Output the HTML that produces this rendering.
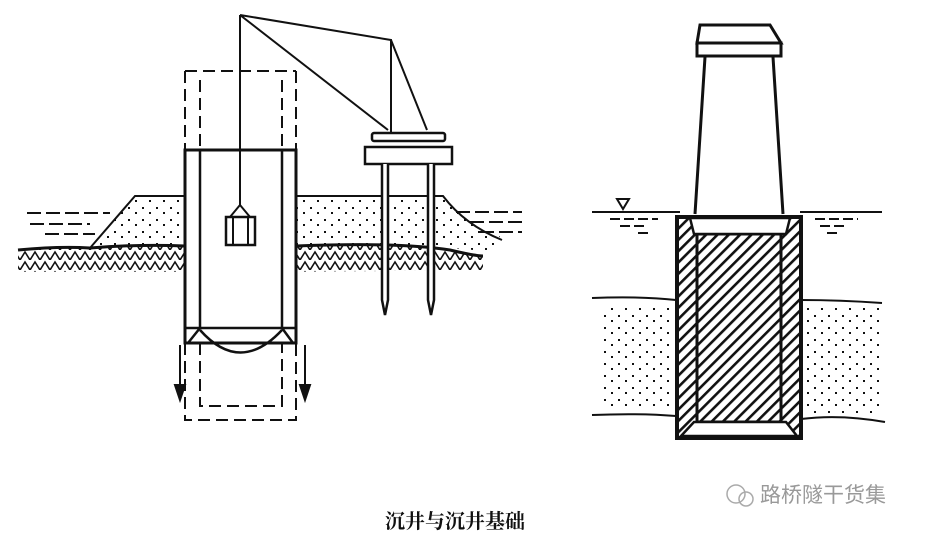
<!DOCTYPE html><html><head><style>body{margin:0;background:#fff}svg{display:block}</style></head><body>
<svg width="930" height="538" viewBox="0 0 930 538" xmlns="http://www.w3.org/2000/svg">
<defs>
<pattern id="h" width="8" height="8" patternUnits="userSpaceOnUse" patternTransform="rotate(45)"><rect width="8" height="8" fill="#fff"/><rect width="2.6" height="8" fill="#111"/></pattern>
<pattern id="g" width="10" height="10" patternUnits="userSpaceOnUse"><path d="M0 10 L5 2 L10 10" fill="none" stroke="#111" stroke-width="1.6"/></pattern>
<pattern id="d" width="14" height="12" patternUnits="userSpaceOnUse"><rect x="2" y="3" width="2" height="2" fill="#111"/><rect x="9" y="8" width="2" height="2" fill="#111"/></pattern>
</defs>
<g stroke="#111" fill="none" stroke-width="2">
<path d="M18 250 Q60 246 90 248 Q140 244 185 246 L185 272 L18 272Z" fill="url(#g)" stroke="none"/>
<path d="M296 246 Q400 242 483 255 L483 270 L296 272Z" fill="url(#g)" stroke="none"/>
<path d="M18 250 Q60 246 90 248 Q140 244 185 246" stroke-width="3"/>
<path d="M296 246 Q400 242 450 250 Q475 256 483 256" stroke-width="3"/>
<path d="M90 248 L135 196 L185 196 L185 246 Q140 244 90 248Z" fill="url(#d)"/>
<path d="M296 196 L443 196 Q470 225 500 236 L490 252 Q420 242 296 246Z" fill="url(#d)" stroke="none"/>
<path d="M296 196 L443 196 Q465 225 502 240"/>
<path d="M27 213 H110 M30 224 H90 M45 234 H95" stroke-dasharray="14 5"/>
<path d="M456 212 H522 M470 222 H522 M480 232 H522" stroke-dasharray="14 5"/>
<path d="M185 71 H296 M185 71 V150 M296 71 V150 M200 80 V150 M282 80 V150 M185 343 V420 H296 V343 M200 343 V406 H282 V343" stroke-dasharray="12 6"/>
<rect x="185" y="150" width="111" height="193" fill="#fff" stroke-width="3"/>
<path d="M200 150 V328 M282 150 V328 M185 328 H296 M200 328 L188 343 M282 328 L293 343" stroke-width="2.5"/>
<path d="M200 330 Q240 375 282 330" stroke-width="2.5"/>
<path d="M180 345 V395 M305 345 V395"/>
<path d="M175 385 L180 400 L185 385Z M300 385 L305 400 L310 385Z" fill="#111"/>
<path d="M240 15 V205 M240 15 L391 40 L391 132 M240 15 L388 130 M391 40 L427 130" stroke-width="2"/>
<path d="M240 205 L230 217 M240 205 L250 217"/>
<rect x="226" y="217" width="29" height="28" stroke-width="2.5" fill="#fff"/>
<path d="M233 217 V245 M248 217 V245"/>
<rect x="372" y="133" width="73" height="8" rx="2" stroke-width="2.5"/>
<rect x="365" y="147" width="87" height="17" stroke-width="2.5" fill="#fff"/>
<path d="M382 164 V300 L385 315 L388 300 V164 M428 164 V300 L431 315 L434 300 V164" stroke-width="2.5" fill="#fff"/>
<path d="M592 212 H680 M800 212 H882" stroke-width="2"/>
<path d="M617 199 H629 L623 209Z" stroke-width="2"/>
<path d="M610 219 H658 M620 226 H646 M638 233 H648 M815 219 H858 M820 226 H848 M827 233 H838" stroke-width="2" stroke-dasharray="10 4"/>
<path d="M592 298 Q640 296 676 300 M801 300 Q840 300 882 303 M592 415 Q640 413 676 416 M801 419 Q840 414 885 422" stroke-width="2"/>
<rect x="600" y="305" width="74" height="105" fill="url(#d)" stroke="none"/>
<rect x="806" y="308" width="74" height="108" fill="url(#d)" stroke="none"/>
<path d="M700 25 H770 L781 43 H697Z" stroke-width="3" fill="#fff"/>
<rect x="697" y="43" width="84" height="13" stroke-width="3" fill="#fff"/>
<path d="M705 57 L695 214 M773 57 L783 214" stroke-width="3"/>
<rect x="677" y="217" width="124" height="221" fill="url(#h)" stroke-width="4"/>
<rect x="697" y="234" width="84" height="188" fill="url(#h)" stroke-width="3"/>
<path d="M690 218 H790 L786 234 H694Z" fill="#fff" stroke-width="2.5"/>
<path d="M694 422 H786 L797 436 H681Z" fill="#fff" stroke-width="2.5"/>
</g>
<text x="455" y="528" font-family="'Liberation Serif','Noto Serif CJK SC',serif" font-size="20" font-weight="bold" text-anchor="middle" fill="#111">沉井与沉井基础</text>
<text x="760" y="502" font-family="'Liberation Sans','Noto Sans CJK SC',sans-serif" font-size="21" fill="#999">路桥隧干货集</text>
<circle cx="736" cy="494" r="9" fill="none" stroke="#aaa" stroke-width="1.5"/>
<circle cx="746" cy="499" r="7" fill="none" stroke="#aaa" stroke-width="1.5"/>
</svg>
</body></html>
